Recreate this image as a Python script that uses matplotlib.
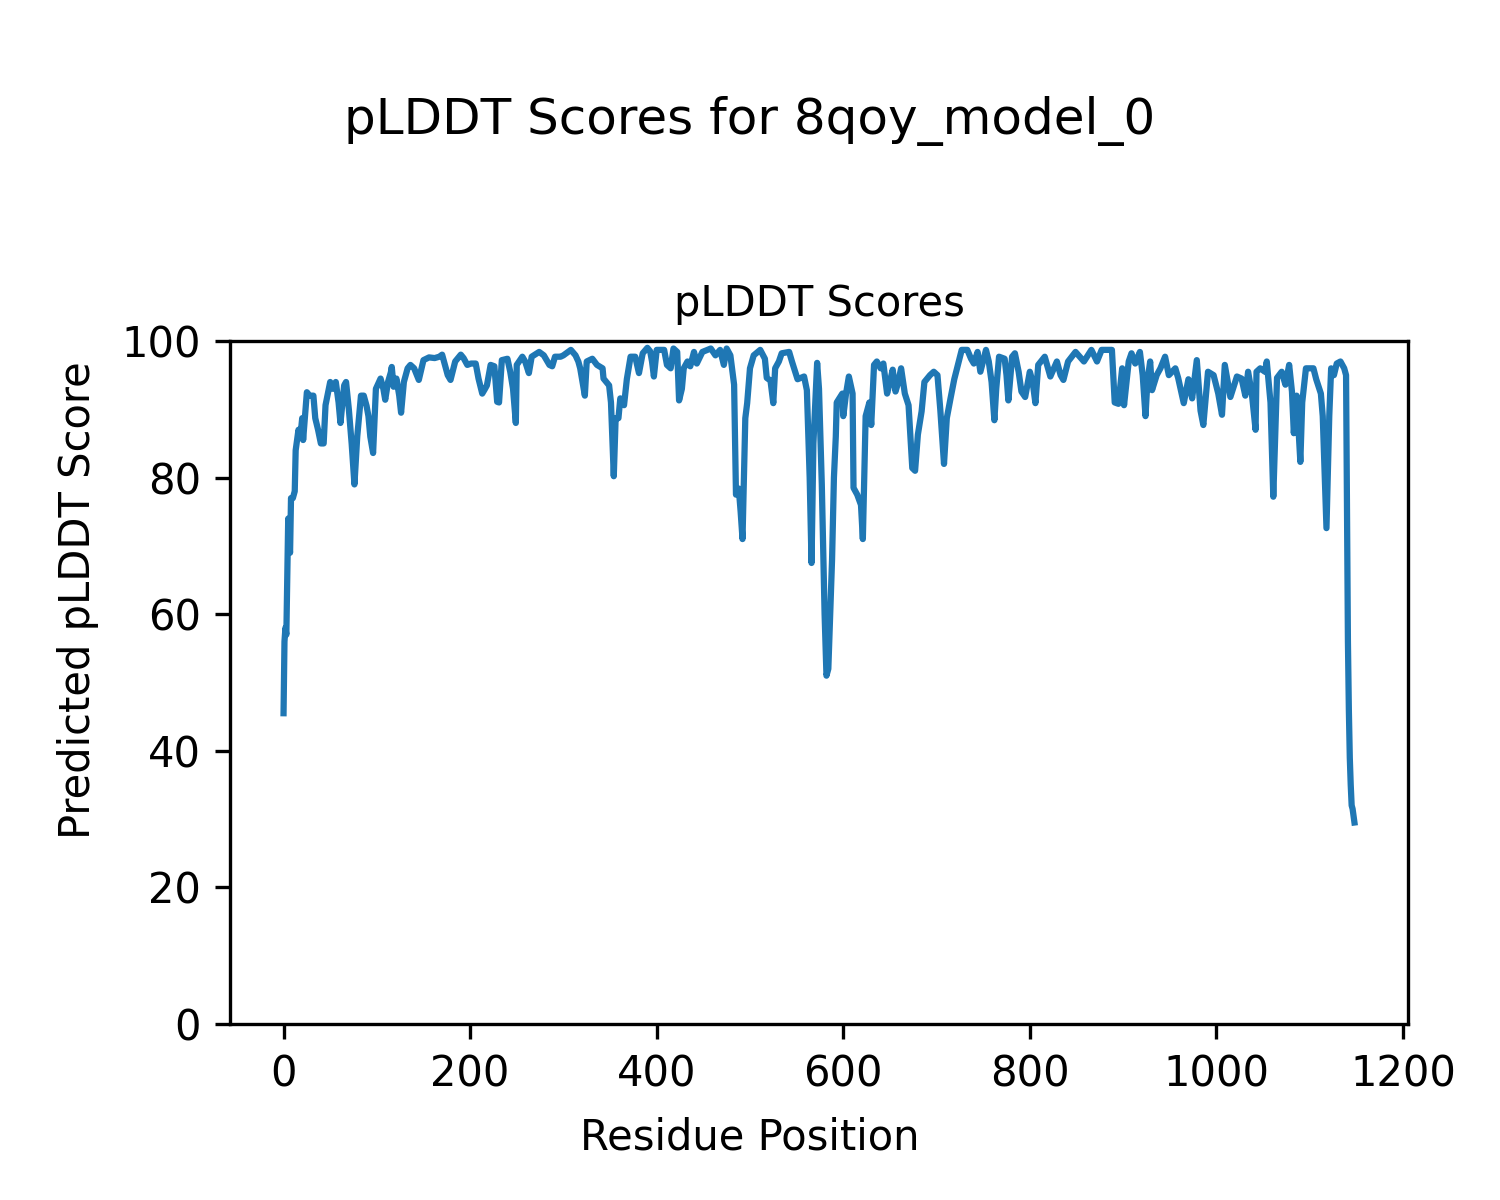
import matplotlib
matplotlib.use("Agg")
import matplotlib.pyplot as plt

residues = [
    0, 1, 2, 3, 5, 6, 7, 8, 10, 12, 13, 16, 18, 20, 21, 25, 28, 32, 34, 37,
    40, 43, 45, 50, 53, 56, 59, 61, 65, 67, 70, 73, 76, 79, 83, 86, 89, 91, 93, 96,
    99, 104, 107, 109, 112, 115, 116, 118, 121, 124, 126, 129, 133, 136, 140, 143, 145, 150, 156, 162,
    167, 170, 173, 176, 179, 184, 190, 193, 197, 201, 206, 209, 213, 216, 218, 222, 226, 229, 231, 234,
    240, 243, 246, 249, 250, 256, 259, 263, 266, 274, 279, 285, 288, 291, 297, 300, 308, 313, 316, 318,
    323, 325, 331, 336, 342, 343, 349, 351, 354, 356, 359, 361, 365, 368, 372, 377, 381, 385, 390, 393,
    395, 397, 400, 408, 411, 415, 418, 422, 424, 427, 429, 433, 436, 440, 443, 449, 458, 463, 468, 472,
    475, 479, 483, 485, 488, 490, 492, 495, 497, 500, 504, 511, 516, 518, 522, 525, 527, 531, 534, 542,
    545, 551, 558, 561, 564, 566, 568, 572, 574, 577, 580, 582, 584, 586, 588, 590, 592, 593, 599, 600,
    603, 606, 610, 611, 615, 619, 621, 624, 628, 630, 633, 636, 640, 643, 647, 650, 653, 656, 659, 662,
    666, 670, 674, 677, 680, 684, 687, 693, 697, 701, 704, 708, 711, 715, 719, 722, 727, 733, 737, 740,
    744, 747, 753, 756, 759, 762, 764, 767, 773, 775, 777, 781, 784, 788, 791, 795, 800, 803, 806, 809,
    816, 822, 829, 833, 836, 841, 849, 858, 866, 872, 877, 884, 888, 891, 895, 899, 901, 906, 909, 913,
    918, 921, 924, 926, 929, 931, 936, 940, 945, 949, 956, 959, 965, 970, 974, 979, 983, 986, 991, 997,
    1002, 1006, 1009, 1015, 1022, 1027, 1031, 1034, 1038, 1042, 1043, 1047, 1052, 1054, 1058, 1061, 1065, 1070, 1074, 1078,
    1081, 1083, 1086, 1090, 1092, 1096, 1104, 1107, 1112, 1114, 1118, 1121, 1123, 1126, 1129, 1133, 1137, 1139, 1140, 1141,
    1142, 1143, 1144, 1145, 1146, 1147, 1148,
]

plddt = [
    45.5, 56, 58, 57, 74, 70, 69, 77, 77, 78, 84, 87, 86, 88.7, 85.5, 92.5, 92, 92, 88.7, 87,
    85, 85, 90.6, 94, 93, 94, 91, 88, 93.5, 94, 90, 85, 79, 86, 92, 92, 90.5, 89, 86, 83.6,
    93, 94.5, 93, 91.4, 94, 95.4, 96.2, 93.3, 94.5, 92, 89.5, 94, 96, 96.5, 96, 95, 94.3, 97.2, 97.6, 97.5,
    97.7, 98, 96.5, 95, 94.3, 97, 98, 97.5, 96.5, 96.7, 96.7, 94.5, 92.3, 93, 93.5, 96.5, 96.3, 91.1, 91, 97.2,
    97.4, 95.5, 93, 88, 96.5, 97.7, 97, 95.3, 97.7, 98.4, 97.9, 96.5, 96.3, 97.7, 97.7, 97.9, 98.7, 97.9, 97, 96,
    92, 97, 97.4, 96.5, 96, 94.5, 93.5, 91, 80.2, 88.7, 88.7, 91.6, 90.6, 94.4, 97.7, 97.7, 95.3, 98.2, 99, 98.5,
    97, 94.8, 98.7, 98.7, 96.5, 96, 98.9, 98.4, 91.3, 93, 96, 97, 96.3, 98.4, 96.7, 98.4, 98.9, 97.9, 98.7, 96.5,
    98.9, 97.9, 93.6, 77.5, 78.4, 75, 71, 88.7, 90.9, 96, 97.9, 98.7, 97.4, 94.6, 94.2, 90.9, 96, 97, 98.2, 98.4,
    97, 94.4, 94.8, 92.8, 80, 67.5, 85, 96.8, 93, 79, 60, 51, 52, 60, 68, 80, 86, 91, 92.3, 89,
    92.3, 94.8, 92.3, 78.5, 77.5, 76, 71, 89, 91, 87.7, 96.5, 97, 96, 96.7, 92.3, 94, 95.8, 92.6, 94, 96,
    92.3, 90.6, 81.4, 81, 86.3, 89.7, 94, 95, 95.5, 95, 90, 82, 88.7, 91.6, 94.4, 96, 98.7, 98.7, 97.4, 96.7,
    98.4, 95.5, 98.7, 97, 94, 88.4, 93, 97.7, 97.4, 95, 91.3, 97.7, 98.2, 95.5, 92.6, 91.8, 95.5, 94, 90.9, 96.5,
    97.7, 94.8, 97, 95, 94.3, 97, 98.4, 97, 98.7, 97, 98.7, 98.7, 98.7, 91, 90.8, 96, 90.6, 97, 98.2, 96.7,
    98.4, 95, 89, 94, 97, 92.8, 95, 96, 97.7, 95, 96, 94.6, 90.9, 94.4, 91.6, 97.2, 89.8, 87.7, 95.5, 95,
    92.3, 89.2, 96.5, 91.8, 94.8, 94.5, 92, 95.5, 92.3, 87, 95.5, 96, 95.5, 97, 91, 77.2, 94.6, 95.5, 93.6, 96.5,
    92.6, 86.5, 92, 82.3, 91, 96, 96, 94.4, 92.3, 89, 72.6, 89, 96, 95, 96.7, 97, 96, 95, 75, 56,
    46, 39, 35, 32, 31.5, 30.5, 29.5,
]

suptitle_text = "pLDDT Scores for 8qoy_model_0"
title_text = "pLDDT Scores"
xlabel_text = "Residue Position"
ylabel_text = "Predicted pLDDT Score"

fig = plt.figure(figsize=(5, 4), dpi=300)
ax = fig.add_axes([230 / 1500, 1 - 1024 / 1200, (1408 - 230) / 1500, (1024 - 341) / 1200])
ax.plot(residues, plddt, color="#1f77b4", linewidth=1.5)
ax.set_ylim(0, 100)
ax.set_title(title_text, fontsize=10)
fig.text(0.5, 1 - 1138 / 1200, xlabel_text, ha="center", va="center", fontsize=10)
fig.text(78 / 1500, 0.5, ylabel_text, ha="center", va="center", rotation=90, fontsize=10)
fig.suptitle(suptitle_text, y=0.92, fontsize=12)
fig.savefig("out.png", dpi=300)
